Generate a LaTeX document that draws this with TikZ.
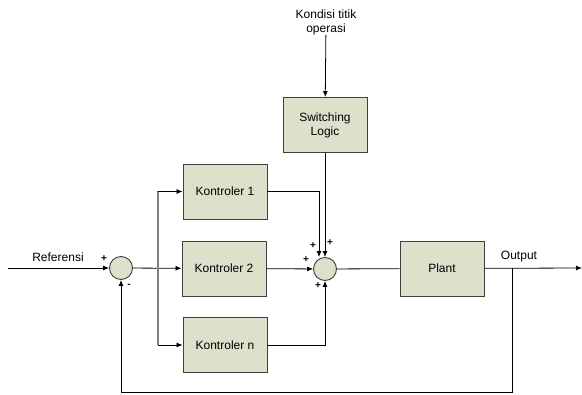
\documentclass[tikz,border=0pt]{standalone}
\usepackage{fontspec}
\setmainfont{Liberation Sans}
\usetikzlibrary{arrows.meta,positioning,calc}
\definecolor{blockfill}{HTML}{DDE0CB}
\definecolor{edge}{HTML}{404040}
\tikzset{
  block/.style={
    draw=edge, fill=blockfill, line width=0.9pt,
    minimum width=84pt, minimum height=55pt,
    align=center, font=\fontsize{12}{14}\selectfont
  },
  sumnode/.style={
    circle, draw=edge, fill=blockfill, line width=0.9pt,
    minimum size=23pt, inner sep=0pt
  },
  arrow/.style={-{Latex[length=6pt,width=5pt]}, line width=0.8pt},
  plain/.style={line width=0.8pt},
  sign/.style={font=\bfseries\fontsize{10}{12}\selectfont, inner sep=0pt},
  lbl/.style={font=\fontsize{12}{14}\selectfont, align=center, inner sep=0pt}
}
\begin{document}
\begin{tikzpicture}[x=1pt, y=-1pt]
  \useasboundingbox (0,0) rectangle (582,395);
  % blocks
  \node[sumnode] (sum1) at (121,268) {};
  \node[block] (k1) at (225,191.5) {Kontroler 1};
  \node[block] (k2) at (224,268.5) {Kontroler 2};
  \node[block] (kn) at (225,345) {Kontroler n};
  \node[sumnode] (sum2) at (325,269) {};
  \node[block] (logic) at (325,125) {Switching\\Logic};
  \node[block] (plant) at (442,268.5) {Plant};
  % labels
  \node[lbl] (kondisi) at (326,22) {Kondisi titik\\operasi};
  \node[lbl] (ref) at (58,257) {Referensi};
  \node[lbl] (out) at (519,257) {Output};
  \coordinate (refin) at (8,268);
  \coordinate (outend) at (582,268);
  \coordinate (split) at (158,268);
  \coordinate (tap) at (512,268);
  % reference and error branches
  \draw[arrow] (refin) -- (sum1);
  \draw[arrow] (sum1) -- (k2);
  \draw[plain, draw=gray, line width=1.3pt] (split |- k1) -- (split |- kn);
  \draw[arrow] (split |- k1) -- (k1);
  \draw[arrow] (split |- kn) -- (kn);
  % controllers into the second sum
  \draw[arrow] (k1.east) -| ($(sum2.north)+(-6,0)$);
  \draw[arrow] (k2) -- (sum2);
  \draw[arrow] (kn.east) -| (sum2.south);
  \draw[arrow] (kondisi) -- (logic);
  \draw[arrow] (logic) -- (sum2);
  % plant and feedback
  \draw[plain] (sum2) -- (plant);
  \draw[arrow] (plant) -- (outend);
  \draw[arrow] (tap) -- (512,392) -| (sum1.south);
  % signs
  \node[sign] (p1) at (104,259) {+};
  \node[sign] (m1) at (129,286) {-};
  \node[sign] (p2) at (313,246) {+};
  \node[sign] (p3) at (330,243) {+};
  \node[sign] (p4) at (306,260) {+};
  \node[sign] (p5) at (318,286) {+};
\end{tikzpicture}
\end{document}
